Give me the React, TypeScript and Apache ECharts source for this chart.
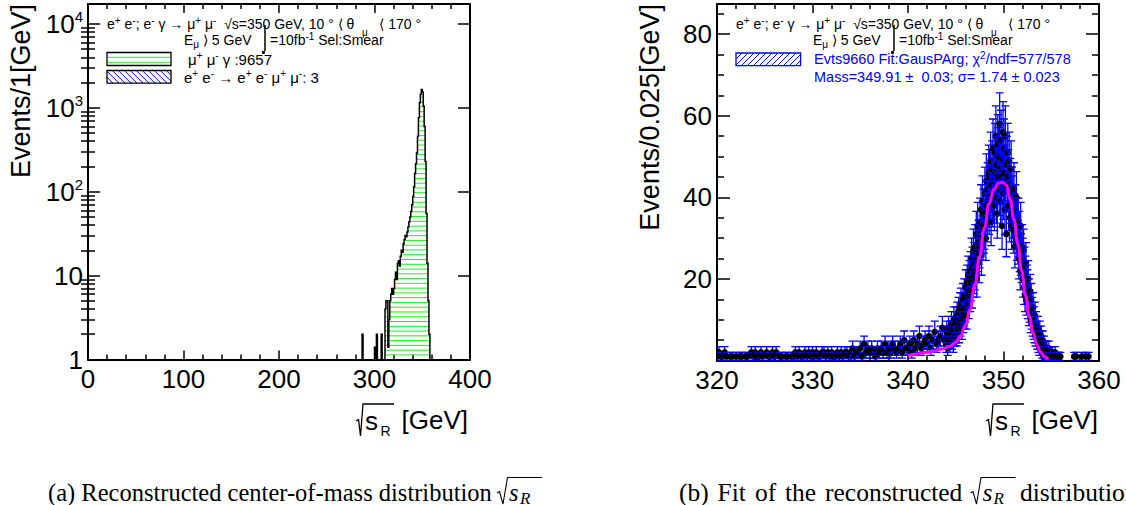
import React, { useEffect, useRef } from "react";
import * as echarts from "echarts";

const SANS = "'Liberation Sans', Arial, Helvetica, sans-serif";
const SERIF = "'Liberation Serif', 'Times New Roman', serif";

// ---------------- Left panel: 1 GeV bins ----------------
const isoBinLow = [287, 300, 302, 307];
const isoCounts = [2, 1.4, 2, 2];
const mainBinLow = 311;
const mainCounts = [
  4, 5, 5, 1.4, 3, 5, 6, 7, 6, 7,
  9, 11, 9, 14, 15, 13, 17, 20, 19, 24,
  27, 30, 29, 33, 38, 44, 50, 58, 70, 88,
  115, 165, 215, 290, 460, 760, 1150, 1450, 1650, 1550,
  1050, 600, 230, 55, 14, 5, 2,
];
const logMinorTicks = [
  2, 3, 4, 5, 6, 7, 8, 9,
  20, 30, 40, 50, 60, 70, 80, 90,
  200, 300, 400, 500, 600, 700, 800, 900,
  2000, 3000, 4000, 5000, 6000, 7000, 8000, 9000,
];

// ---------------- Right panel: 0.025 GeV bins ----------------
const tailStart = 320.0;
const tailStep = 0.2;
const tailCounts = [
  1, 2, 1, 1, 2, 1, 0, 1, 1, 0,
  1, 0, 1, 1, 0, 1, 1, 0, 2, 1,
  2, 1, 1, 2, 1, 0, 2, 1, 1, 2,
  1, 2, 0, 1, 1, 0, 1, 1, 0, 1,
  1, 2, 1, 2, 1, 1, 2, 1, 2, 1,
  2, 1, 2, 1, 1, 2, 2, 1, 2, 1,
  2, 1, 1, 2, 1, 2, 1, 2, 2, 1,
  2, 3, 1, 2, 2, 3, 1, 4, 2, 3,
  2, 3, 2, 1, 3, 2, 3, 2, 4, 2,
  3, 2, 4, 3, 2, 3, 4, 2, 5, 3,
  3, 4, 2, 5, 3, 4, 6, 3, 4, 5,
  4, 6, 3, 5, 7, 4, 5, 6, 8, 5,
];
const peakStart = 344.0;
const peakStep = 0.05;
const peakCounts = [
  4, 7, 5, 3, 6, 8, 5, 6, 4, 7,
  6, 9, 5, 8, 7, 4, 10, 7, 6, 9,
  7, 10, 6, 11, 9, 8, 12, 7, 10, 13,
  9, 14, 11, 8, 13, 15, 10, 12, 16, 11,
  13, 18, 15, 11, 19, 16, 21, 14, 17, 20,
  16, 22, 19, 25, 17, 23, 20, 27, 21, 24,
  22, 28, 25, 31, 20, 27, 33, 26, 29, 24,
  28, 34, 31, 37, 26, 33, 39, 30, 36, 32,
  33, 41, 36, 30, 44, 38, 35, 42, 39, 46,
  37, 45, 40, 49, 34, 43, 47, 39, 52, 41,
  44, 38, 51, 46, 55, 40, 48, 36, 53, 45,
  50, 42, 58, 47, 39, 54, 45, 33, 49, 56,
  41, 52, 46, 37, 55, 43, 31, 48, 44, 51,
  45, 38, 49, 35, 43, 40, 47, 33, 41, 36,
  39, 32, 42, 35, 28, 37, 33, 40, 30, 34,
  29, 34, 25, 31, 27, 22, 33, 26, 24, 28,
  25, 20, 27, 18, 23, 16, 21, 24, 15, 19,
  18, 14, 20, 12, 16, 13, 17, 10, 15, 11,
  12, 9, 13, 8, 10, 7, 11, 6, 9, 8,
  7, 5, 8, 4, 6, 3, 7, 5, 4, 6,
  4, 2, 5, 3, 1, 4, 2, 3, 2, 3,
  2, 3, 1, 2, 0, 3, 1, 2, 1, 0,
  1, 0, 2, 1, 0, 1, 1, 0, 2, 0,
  0, 1, 0, 0, 1, 0, 1, 0, 0, 1,
];
const farTailX = [357.4, 357.6, 358.2, 358.6, 358.9];
const farTailCounts = [1, 1, 1, 1, 1];

const fitX = [
  340.0, 341.0, 342.0, 342.7, 343.5, 344.4, 345.0, 345.5, 346.0, 346.5,
  347.0, 347.5, 348.0, 348.5, 349.0, 349.5, 349.9, 350.3, 350.7, 351.1,
  351.5, 351.9, 352.3, 352.7, 353.1, 353.5, 353.9, 354.3, 354.7,
];
const fitY = [
  1.2, 1.6, 2.0, 2.3, 2.8, 3.5, 4.5, 6.0, 8.5, 12.5,
  18.5, 25.5, 32.5, 38.5, 42.0, 43.5, 43.7, 43.0, 39.5, 34.5,
  28.5, 22.0, 16.0, 10.8, 6.8, 3.8, 2.0, 0.9, 0.3,
];
const rightYMinorTicks = [5, 10, 15, 25, 30, 35, 45, 50, 55, 65, 70, 75, 85];

// ---------------- derived series data ----------------
const leftItems = [
  ...isoBinLow.map((x, i) => [x, isoCounts[i]]),
  ...mainCounts.map((c, i) => [mainBinLow + i, c]),
];
const pointItems = [
  ...tailCounts.map((n, i) => [+(tailStart + i * tailStep).toFixed(3), n]),
  ...peakCounts.map((n, i) => [+(peakStart + i * peakStep).toFixed(3), n]),
  ...farTailX.map((x, i) => [x, farTailCounts[i]]),
].filter((d) => d[1] > 0);
const fitData = fitX.map((x, i) => [x, fitY[i]]);

// ---------------- renderers ----------------
function renderLeftHist(params: any, api: any) {
  if (params.dataIndex !== 0) return null;
  const children: any[] = [];
  const yb = api.coord([mainBinLow, 1])[1];
  const tops = mainCounts.map((c, i) => api.coord([mainBinLow + i, c])[1]);
  const edges = mainCounts.map((c, i) => api.coord([mainBinLow + i, c])[0]);
  edges.push(api.coord([mainBinLow + mainCounts.length, 1])[0]);
  for (let y = yb - 4.6; y > 6; y -= 4.77) {
    let s = -1;
    for (let i = 0; i <= tops.length; i++) {
      const inside = i < tops.length && tops[i] < y;
      if (inside && s < 0) s = i;
      if (!inside && s >= 0) {
        children.push({
          type: "line",
          shape: { x1: edges[s], y1: y, x2: edges[i], y2: y },
          style: { stroke: "#22ee22", lineWidth: 1 },
        });
        s = -1;
      }
    }
  }
  const pts: number[][] = [[edges[0], yb]];
  tops.forEach((t, i) => {
    pts.push([edges[i], t], [edges[i + 1], t]);
  });
  pts.push([edges[edges.length - 1], yb]);
  children.push({
    type: "polyline",
    shape: { points: pts },
    style: { stroke: "#000", lineWidth: 1.5, fill: "none" },
  });
  isoBinLow.forEach((b, i) => {
    const p = api.coord([b, isoCounts[i]]);
    const q = api.coord([b + 1, isoCounts[i]]);
    children.push({
      type: "polyline",
      shape: { points: [[p[0], yb], [p[0], p[1]], [q[0], q[1]], [q[0], yb]] },
      style: { stroke: "#000", lineWidth: 1.5, fill: "none" },
    });
  });
  return { type: "group", children };
}

function renderPoint(params: any, api: any) {
  const x = api.value(0);
  const n = api.value(1);
  const c = api.coord([x, n]);
  const e = Math.sqrt(n);
  const yt = api.coord([x, n + e])[1];
  const yl = api.coord([x, Math.max(n - e, 0)])[1];
  const blue = { stroke: "#0000ff", lineWidth: 1.3 };
  return {
    type: "group",
    children: [
      { type: "line", shape: { x1: c[0], y1: yt, x2: c[0], y2: yl }, style: blue },
      { type: "line", shape: { x1: c[0] - 4, y1: yt, x2: c[0] + 4, y2: yt }, style: blue },
      { type: "line", shape: { x1: c[0] - 4, y1: yl, x2: c[0] + 4, y2: yl }, style: blue },
      { type: "circle", shape: { cx: c[0], cy: c[1], r: 3.3 }, style: { fill: "#000" } },
    ],
  };
}

// ---------------- decoration helpers ----------------
const richBase = (size: number, color: string, supSize: number) => ({
  a: { fontSize: size, fontFamily: SANS, fill: color, lineHeight: 18 },
  s: { fontSize: supSize, fontFamily: SANS, fill: color, verticalAlign: "top", lineHeight: 10 },
  b: { fontSize: supSize, fontFamily: SANS, fill: color, verticalAlign: "bottom", lineHeight: 10 },
});

function rtext(x: number, y: number, text: string, color = "#000", size = 14, align = "left") {
  const supSize = size >= 14 ? 10 : 9;
  return {
    type: "text",
    x,
    y,
    silent: true,
    style: {
      text,
      fontSize: size,
      fontFamily: SANS,
      fill: color,
      verticalAlign: "middle",
      align,
      rich: richBase(size, color, supSize),
    },
  };
}

function hatchBox(x: number, y: number, w: number, h: number, dir: number, color: string, border: string) {
  const els: any[] = [];
  const step = 6;
  for (let x0 = x - h; x0 < x + w; x0 += step) {
    let ax = x0, ay = 0, bx = x0 + h, by = h;
    if (ax < x) { ay += x - ax; ax = x; }
    if (bx > x + w) { by -= bx - (x + w); bx = x + w; }
    if (ay >= by) continue;
    if (dir === 1) {
      els.push({ type: "line", silent: true, shape: { x1: ax, y1: y + ay, x2: bx, y2: y + by }, style: { stroke: color, lineWidth: 1 } });
    } else {
      els.push({ type: "line", silent: true, shape: { x1: ax, y1: y + h - ay, x2: bx, y2: y + h - by }, style: { stroke: color, lineWidth: 1 } });
    }
  }
  els.push({ type: "rect", silent: true, shape: { x, y, width: w, height: h }, style: { fill: "none", stroke: border, lineWidth: 1.3 } });
  return els;
}

function legendBlock(x0: number, right: boolean) {
  const els: any[] = [];
  // header line 1
  els.push(rtext(x0, 24, "{a|e}{s|+}{a| e}{s|-}{a|; e}{s|-}{a| γ → μ}{s|+}{a| μ}{s|-}{a|  √s=350 GeV, 10 ° ⟨ θ}"));
  els.push(rtext(x0 + 314, 24, "{a|⟨ 170 °}", "#000", 14, "right"));
  els.push(rtext(x0 + 255, 32, "{b|μ}"));
  // header line 2
  els.push(rtext(x0 + 77, 40, "{a|E}{b|μ}{a| ⟩ 5 GeV}"));
  els.push(rtext(x0 + 163, 40, "{a|=10fb}{s|-1}{a| Sel:Smear}"));
  els.push({ type: "line", silent: true, shape: { x1: x0 + 158, y1: 25, x2: x0 + 158, y2: 51 }, style: { stroke: "#000", lineWidth: 1.5 } });
  els.push({ type: "circle", silent: true, shape: { cx: x0 + 156.5, cy: 52.5, r: 1.6 }, style: { fill: "#000" } });
  if (!right) {
    els.push({ type: "rect", silent: true, shape: { x: x0, y: 52.5, width: 64, height: 13 }, style: { fill: "#fff", stroke: "#000", lineWidth: 1.3 } });
    els.push({ type: "line", silent: true, shape: { x1: x0 + 1, y1: 57.3, x2: x0 + 63, y2: 57.3 }, style: { stroke: "#22ee22", lineWidth: 1 } });
    els.push({ type: "line", silent: true, shape: { x1: x0 + 1, y1: 62.3, x2: x0 + 63, y2: 62.3 }, style: { stroke: "#22ee22", lineWidth: 1 } });
    els.push(...hatchBox(x0, 70.5, 64, 12.7, 1, "#0000ff", "#000"));
    els.push(rtext(x0 + 81, 59, "{a|μ}{s|+}{a| μ}{s|-}{a| γ :9657}", "#000", 15));
    els.push(rtext(x0 + 77, 77, "{a|e}{s|+}{a| e}{s|-}{a| → e}{s|+}{a| e}{s|-}{a| μ}{s|+}{a| μ}{s|-}{a|: 3}", "#000", 15));
  } else {
    els.push(...hatchBox(x0, 53, 64.6, 12.7, -1, "#0000ff", "#0000ff"));
    els.push(rtext(x0 + 78, 59, "{a|Evts9660 Fit:GausPArg; χ}{s|2}{a|/ndf=577/578}", "#0000ff", 14.5));
    els.push(rtext(x0 + 78, 76.5, "{a|Mass=349.91 ±  0.03; σ= 1.74 ± 0.023}", "#0000ff", 14.5));
  }
  return els;
}

function xTitle(dx: number) {
  return [
    { type: "polyline", silent: true, shape: { points: [[356 + dx, 421], [358.5 + dx, 419.5], [360.5 + dx, 436], [363 + dx, 404], [394 + dx, 404]] }, style: { stroke: "#000", lineWidth: 1.3, fill: "none" } },
    { type: "text", silent: true, x: 365 + dx, y: 421, style: { text: "s", fontSize: 26, fontFamily: SANS, fill: "#000", verticalAlign: "middle", align: "left" } },
    { type: "text", silent: true, x: 380.5 + dx, y: 431, style: { text: "R", fontSize: 14, fontFamily: SANS, fill: "#000", verticalAlign: "middle", align: "left" } },
    { type: "text", silent: true, x: 468 + dx, y: 420, style: { text: "[GeV]", fontSize: 26, fontFamily: SANS, fill: "#000", verticalAlign: "middle", align: "right" } },
  ];
}

function yTitle(x: number, text: string) {
  return { type: "text", silent: true, x, y: 4, rotation: Math.PI / 2, style: { text, fontSize: 27, fontFamily: SANS, fill: "#000", verticalAlign: "middle", align: "right" } };
}

function capText(x: number, text: string, size: number) {
  return { type: "text", silent: true, x, y: 492, style: { text, fontSize: size, fontFamily: SERIF, fill: "#000", verticalAlign: "middle", align: "left" } };
}
function capSqrt(sqrtX: number, size: number) {
  return [
    { type: "polyline", silent: true, shape: { points: [[sqrtX - 1, 493], [sqrtX + 1.5, 491.5], [sqrtX + 5, 504], [sqrtX + 9.5, 477.5], [sqrtX + 44, 477.5]] }, style: { stroke: "#000", lineWidth: 1.1, fill: "none" } },
    { type: "text", silent: true, x: sqrtX + 11, y: 492, style: { text: "s", fontSize: size, fontStyle: "italic", fontFamily: SERIF, fill: "#000", verticalAlign: "middle", align: "left" } },
    { type: "text", silent: true, x: sqrtX + 22, y: 498, style: { text: "R", fontSize: 17, fontStyle: "italic", fontFamily: SERIF, fill: "#000", verticalAlign: "middle", align: "left" } },
  ];
}

// ---------------- axes ----------------
const BLK = "#000";
const axLine = { show: true, onZero: false, lineStyle: { color: BLK, width: 2 } };
const tickStyle = { color: BLK, width: 1.5 };
const labelStyle = { fontSize: 26, fontFamily: SANS, color: BLK };

function xAx(grid: number, min: number, max: number, interval: number, pos: string, labels: boolean) {
  return {
    gridIndex: grid, type: "value", min, max, interval, position: pos,
    axisLine: axLine,
    axisTick: { show: true, inside: true, length: 9, lineStyle: tickStyle },
    minorTick: { show: true, splitNumber: 5, length: 5, lineStyle: tickStyle },
    axisLabel: labels ? { ...labelStyle, margin: 6, showMaxLabel: true } : { show: false },
    splitLine: { show: false },
    minorSplitLine: { show: false },
  };
}

function logAx(pos: string, labels: boolean) {
  return {
    gridIndex: 0, type: "log", logBase: 10, min: 1, max: 17300, position: pos, offset: 0,
    axisLine: axLine,
    axisTick: { show: true, inside: true, length: 12, lineStyle: tickStyle },
    axisLabel: labels
      ? {
          ...labelStyle,
          margin: 5,
          formatter: (v: number) => {
            const e = Math.round(Math.log10(v));
            if (Math.abs(v - Math.pow(10, e)) > 1e-6 * v) return "";
            if (e === 0) return "1";
            if (e === 1) return "10";
            return `{b|10}{p|${e}}`;
          },
          rich: {
            b: { fontSize: 26, fontFamily: SANS, color: BLK, lineHeight: 30 },
            p: { fontSize: 15, fontFamily: SANS, color: BLK, verticalAlign: "top", lineHeight: 16 },
          },
        }
      : { show: false },
    splitLine: { show: false },
  };
}

function logMinorAx(pos: string) {
  return {
    gridIndex: 0, type: "log", logBase: 10, min: 1, max: 17300, position: pos, offset: 0,
    axisLine: { show: false },
    axisTick: { show: true, inside: true, length: 7, lineStyle: tickStyle, customValues: logMinorTicks },
    axisLabel: { show: false },
    splitLine: { show: false },
  };
}

function linYAx(pos: string, labels: boolean) {
  return {
    gridIndex: 1, type: "value", min: 0, max: 87.4, interval: 20, position: pos, offset: 0,
    axisLine: axLine,
    axisTick: { show: true, inside: true, length: 13, lineStyle: tickStyle },
    axisLabel: labels
      ? { ...labelStyle, margin: 5, showMaxLabel: false, formatter: (v: number) => (v > 0 && v % 20 === 0 ? String(v) : "") }
      : { show: false },
    splitLine: { show: false },
  };
}

function linYMinorAx(pos: string) {
  return {
    gridIndex: 1, type: "value", min: 0, max: 87.4, position: pos, offset: 0,
    axisLine: { show: false },
    axisTick: { show: true, inside: true, length: 7, lineStyle: tickStyle, customValues: rightYMinorTicks },
    axisLabel: { show: false },
    splitLine: { show: false },
  };
}

const option: any = {
  animation: false,
  backgroundColor: "#fff",
  grid: [
    { left: 88, top: 4, width: 382, height: 355.5 },
    { left: 717, top: 4, width: 382, height: 356.5 },
  ],
  xAxis: [
    xAx(0, 0, 400, 100, "bottom", true),
    xAx(0, 0, 400, 100, "top", false),
    xAx(1, 320, 360, 10, "bottom", true),
    xAx(1, 320, 360, 10, "top", false),
  ],
  yAxis: [
    logAx("left", true),
    logMinorAx("left"),
    logAx("right", false),
    logMinorAx("right"),
    linYAx("left", true),
    linYMinorAx("left"),
    linYAx("right", false),
    linYMinorAx("right"),
  ],
  series: [
    {
      type: "custom",
      name: "left-hist",
      xAxisIndex: 0,
      yAxisIndex: 0,
      silent: true,
      data: leftItems,
      encode: { x: 0, y: 1 },
      renderItem: renderLeftHist,
      z: 2,
    },
    {
      type: "custom",
      name: "points",
      xAxisIndex: 2,
      yAxisIndex: 4,
      silent: true,
      clip: true,
      data: pointItems,
      encode: { x: 0, y: 1 },
      renderItem: renderPoint,
      z: 2,
    },
    {
      type: "line",
      name: "fit",
      xAxisIndex: 2,
      yAxisIndex: 4,
      silent: true,
      data: fitData,
      smooth: true,
      smoothMonotone: "x",
      showSymbol: false,
      symbol: "none",
      lineStyle: { color: "#ff00ff", width: 3 },
      z: 3,
    },
  ],
  graphic: [
    ...legendBlock(107, false),
    ...legendBlock(736, true),
    ...xTitle(0),
    ...xTitle(630),
    yTitle(21, "Events/1[GeV]"),
    yTitle(650, "Events/0.025[GeV]"),
    capText(48, "(a) Reconstructed center-of-mass distribution", 24.5),
    ...capSqrt(498, 24.5),
    capText(679, "(b)", 25.5),
    capText(717.6, "Fit", 25.5),
    capText(754.9, "of", 25.5),
    capText(785, "the", 25.5),
    capText(825, "reconstructed", 25.5),
    ...capSqrt(971.5, 25.5),
    capText(1020, "distribution", 25.5),
  ],
};

export default function App() {
  const ref = useRef<HTMLDivElement>(null);
  useEffect(() => {
    const chart = echarts.init(ref.current!, null, { renderer: "svg" });
    chart.setOption(option);
    return () => chart.dispose();
  }, []);
  return (
    <div
      ref={ref}
      style={{ position: "fixed", left: 0, top: 0, width: 1126, height: 505, background: "#fff" }}
    />
  );
}
